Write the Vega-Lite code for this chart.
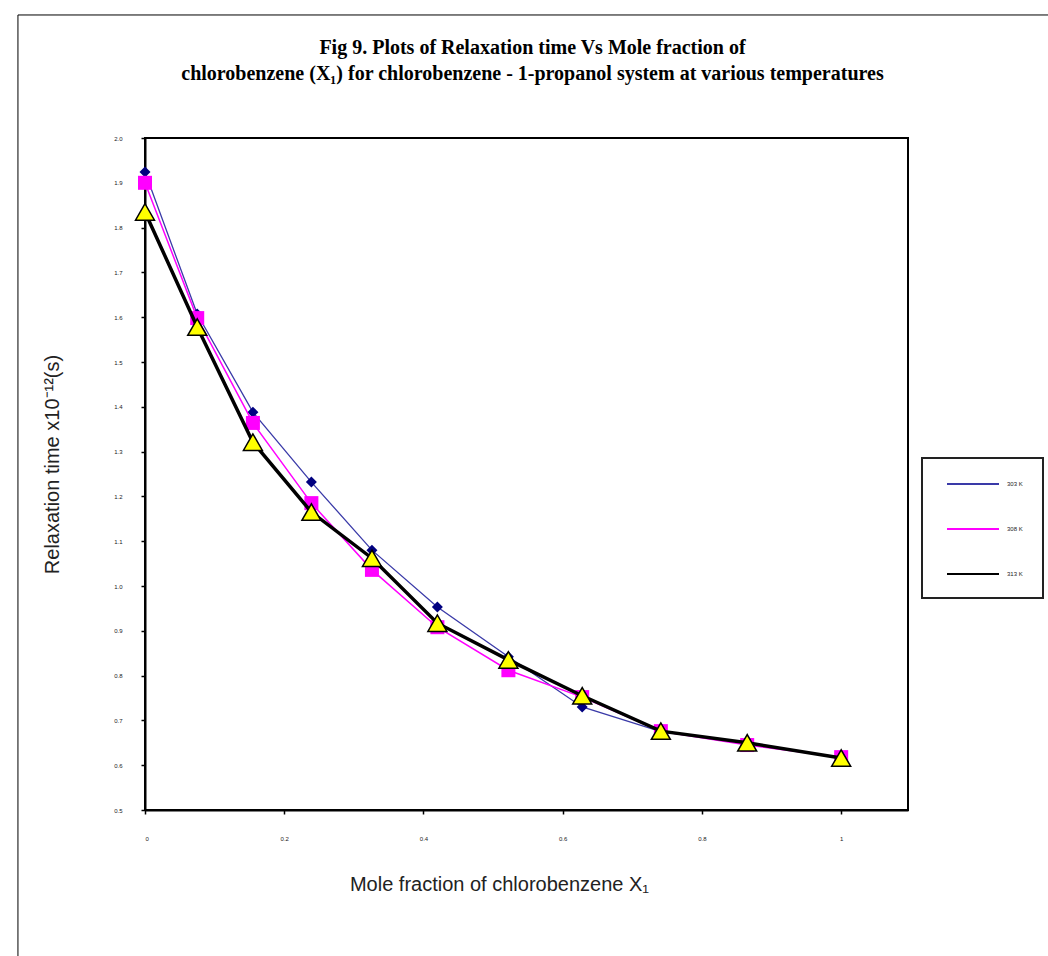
{
  "$schema": "https://vega.github.io/schema/vega-lite/v6.json",
  "width": 763,
  "height": 672,
  "autosize": {"type": "none"},
  "padding": {"left": 145, "top": 138, "right": 140, "bottom": 146},
  "background": "white",
  "title": {
    "text": [
      "Fig 9. Plots of Relaxation  time Vs Mole fraction of",
      "chlorobenzene (X₁)  for chlorobenzene - 1-propanol system at various temperatures"
    ],
    "font": "Liberation Serif",
    "fontSize": 20,
    "fontWeight": "bold",
    "color": "black",
    "anchor": "middle",
    "frame": "group",
    "offset": 51,
    "lineHeight": 26,
    "dx": 6,
    "dy": 121
  },
  "config": {
    "view": {"stroke": "black", "strokeWidth": 2},
    "axis": {
      "grid": false,
      "domainColor": "black",
      "domainWidth": 2,
      "tickColor": "black",
      "tickSize": 4,
      "tickWidth": 1.5,
      "labelFont": "Liberation Sans",
      "labelFontSize": 6,
      "labelColor": "#222222",
      "titleFont": "Liberation Sans",
      "titleFontSize": 20,
      "titleFontWeight": "normal",
      "titleColor": "#222222"
    }
  },
  "datasets": {
    "relaxation": [
      {"x": 0.0, "t": 1.924, "series": "303 K"},
      {"x": 0.075, "t": 1.607, "series": "303 K"},
      {"x": 0.155, "t": 1.388, "series": "303 K"},
      {"x": 0.239, "t": 1.232, "series": "303 K"},
      {"x": 0.326, "t": 1.080, "series": "303 K"},
      {"x": 0.42, "t": 0.953, "series": "303 K"},
      {"x": 0.522, "t": 0.842, "series": "303 K"},
      {"x": 0.628, "t": 0.730, "series": "303 K"},
      {"x": 0.741, "t": 0.675, "series": "303 K"},
      {"x": 0.865, "t": 0.648, "series": "303 K"},
      {"x": 1.0, "t": 0.617, "series": "303 K"},
      {"x": 0.0, "t": 1.900, "series": "308 K"},
      {"x": 0.075, "t": 1.598, "series": "308 K"},
      {"x": 0.155, "t": 1.364, "series": "308 K"},
      {"x": 0.239, "t": 1.185, "series": "308 K"},
      {"x": 0.326, "t": 1.036, "series": "308 K"},
      {"x": 0.42, "t": 0.908, "series": "308 K"},
      {"x": 0.522, "t": 0.812, "series": "308 K"},
      {"x": 0.628, "t": 0.752, "series": "308 K"},
      {"x": 0.741, "t": 0.676, "series": "308 K"},
      {"x": 0.865, "t": 0.645, "series": "308 K"},
      {"x": 1.0, "t": 0.618, "series": "308 K"},
      {"x": 0.0, "t": 1.835, "series": "313 K"},
      {"x": 0.075, "t": 1.578, "series": "313 K"},
      {"x": 0.155, "t": 1.321, "series": "313 K"},
      {"x": 0.239, "t": 1.165, "series": "313 K"},
      {"x": 0.326, "t": 1.062, "series": "313 K"},
      {"x": 0.42, "t": 0.917, "series": "313 K"},
      {"x": 0.522, "t": 0.835, "series": "313 K"},
      {"x": 0.628, "t": 0.755, "series": "313 K"},
      {"x": 0.741, "t": 0.676, "series": "313 K"},
      {"x": 0.865, "t": 0.650, "series": "313 K"},
      {"x": 1.0, "t": 0.616, "series": "313 K"}
    ],
    "frame": [
      {"x0": -0.1825, "x1": 1.32, "y0": 2.2746, "y1": 0.1}
    ]
  },
  "data": {"name": "relaxation"},
  "encoding": {
    "x": {
      "field": "x",
      "type": "quantitative",
      "scale": {"domain": [0, 1.096], "nice": false, "zero": false},
      "axis": {
        "values": [0, 0.2, 0.4, 0.6, 0.8, 1],
        "format": "~g",
        "labelPadding": 21,
        "title": "Mole fraction of chlorobenzene X₁",
        "titleX": 354,
        "titleY": 74,
        "titleAlign": "center",
        "titleBaseline": "middle"
      }
    },
    "y": {
      "field": "t",
      "type": "quantitative",
      "scale": {"domain": [0.5, 2.0], "nice": false, "zero": false},
      "axis": {
        "values": [0.5, 0.6, 0.7, 0.8, 0.9, 1.0, 1.1, 1.2, 1.3, 1.4, 1.5, 1.6, 1.7, 1.8, 1.9, 2.0],
        "format": ".1f",
        "labelPadding": 19,
        "title": "Relaxation time x10⁻¹²(s)",
        "titleAngle": 270,
        "titleX": -93,
        "titleY": 326,
        "titleAlign": "center",
        "titleBaseline": "middle"
      }
    }
  },
  "layer": [
    {
      "data": {"name": "frame"},
      "mark": {"type": "rule", "color": "black", "strokeWidth": 1, "clip": false},
      "encoding": {
        "x": {"field": "x0", "type": "quantitative"},
        "y": {"field": "y0", "type": "quantitative"},
        "y2": {"field": "y1"}
      }
    },
    {
      "data": {"name": "frame"},
      "mark": {"type": "rule", "color": "black", "strokeWidth": 1, "clip": false},
      "encoding": {
        "x": {"field": "x0", "type": "quantitative"},
        "x2": {"field": "x1"},
        "y": {"field": "y0", "type": "quantitative"}
      }
    },
    {
      "transform": [{"filter": "datum.series === '303 K'"}],
      "mark": {"type": "line", "strokeWidth": 1.3},
      "encoding": {
        "color": {
          "field": "series",
          "type": "nominal",
          "scale": {"domain": ["303 K", "308 K", "313 K"], "range": ["#3a3aa8", "#ff00ff", "#000000"]},
          "legend": {
            "title": null,
            "orient": "none",
            "legendX": 777,
            "legendY": 320,
            "direction": "vertical",
            "fillColor": "white",
            "strokeColor": "#222222",
            "padding": 20,
            "rowPadding": 35,
            "symbolType": "M-5.2,0H5.2",
            "symbolSize": 100,
            "symbolOffset": 25,
            "symbolStrokeWidth": 2,
            "labelFont": "Liberation Sans",
            "labelFontSize": 6,
            "labelColor": "#222222",
            "labelOffset": 28,
            "encode": {"legend": {"update": {"strokeWidth": {"value": 2}}}}
          }
        }
      }
    },
    {
      "transform": [{"filter": "datum.series === '303 K'"}],
      "mark": {"type": "point", "shape": "diamond", "filled": true, "color": "#000080", "size": 121, "opacity": 1}
    },
    {
      "transform": [{"filter": "datum.series === '308 K'"}],
      "mark": {"type": "line", "strokeWidth": 1.5},
      "encoding": {"color": {"field": "series", "type": "nominal"}}
    },
    {
      "transform": [{"filter": "datum.series === '308 K'"}],
      "mark": {"type": "point", "shape": "square", "filled": true, "color": "#ff00ff", "size": 196, "opacity": 1}
    },
    {
      "transform": [{"filter": "datum.series === '313 K'"}],
      "mark": {"type": "line", "strokeWidth": 3.5},
      "encoding": {"color": {"field": "series", "type": "nominal"}}
    },
    {
      "transform": [{"filter": "datum.series === '313 K'"}],
      "mark": {"type": "point", "shape": "triangle-up", "filled": true, "fill": "#ffff00", "stroke": "black", "strokeWidth": 1.5, "size": 360, "opacity": 1}
    }
  ]
}
